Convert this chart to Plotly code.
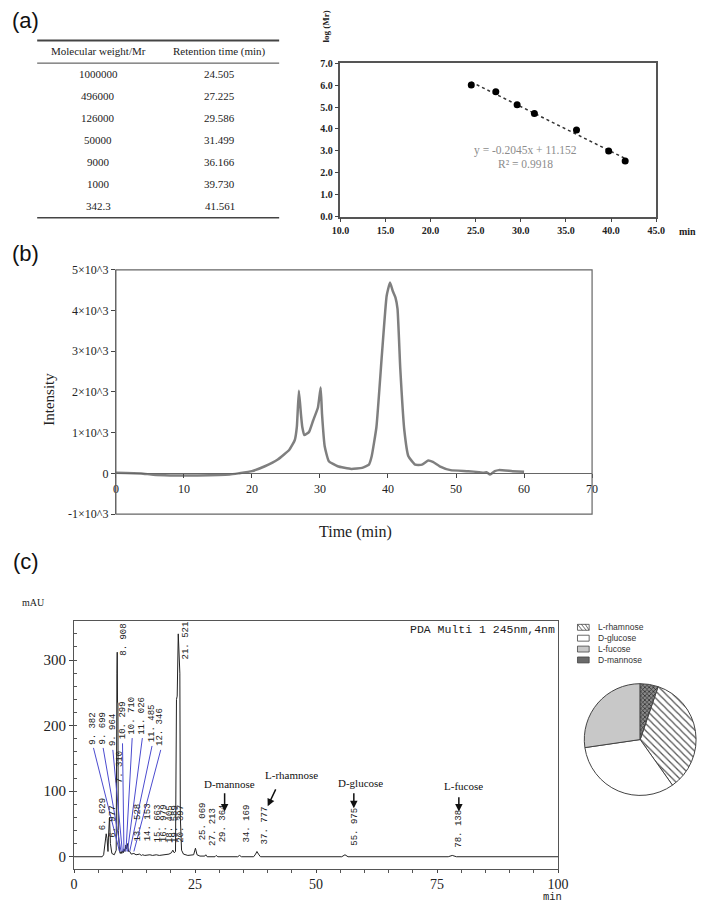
import math
import plotly.graph_objects as go

W, H = 709, 910
def X(px): return px / W
def Y(py): return 1 - py / H

SERIF = "Liberation Serif"
SANS = "Liberation Sans"
MONO = "Liberation Mono"

# ---------------- (a) data ----------------
mr_labels = ["1000000", "496000", "126000", "50000", "9000", "1000", "342.3"]
mr_values = [1000000, 496000, 126000, 50000, 9000, 1000, 342.3]
rt_labels = ["24.505", "27.225", "29.586", "31.499", "36.166", "39.730", "41.561"]
rt_values = [24.505, 27.225, 29.586, 31.499, 36.166, 39.730, 41.561]
table_headers = ["Molecular weight/Mr", "Retention time (min)"]
fit_slope = -0.2045
fit_intercept = 11.152
fit_r2 = 0.9918
a_xticks = [10, 15, 20, 25, 30, 35, 40, 45]
a_yticks = [0, 1, 2, 3, 4, 5, 6, 7]

# ---------------- (b) data ----------------
gpc_time = [0, 3.7, 5.5, 8, 12, 16.7, 18, 20, 21.9, 23.8,
            25.5, 26.3, 26.6, 26.9, 27.2, 27.4, 27.7, 28.4, 29.0, 29.7,
            30.1, 30.3, 30.7, 31.3, 32.6, 34.6, 36.2, 37.2, 37.6, 38.3,
            39.1, 39.8, 40.3, 40.7, 41.1, 41.4, 41.8, 42.4, 43.0, 44.0,
            45.0, 45.9, 46.6, 47.6, 49.2, 51.8, 53.4, 54.1, 54.5, 55.0,
            55.7, 56.3, 58.3, 60.0]
gpc_intensity = [16, 0, -35, -50, -50, -30, 0, 55, 175, 340,
                 580, 820, 1140, 2030, 1460, 1140, 940, 1020, 1300, 1620,
                 2110, 1460, 660, 300, 175, 110, 135, 215, 420, 1140,
                 2910, 4360, 4690, 4480, 4320, 4040, 2590, 1060, 420, 215,
                 215, 315, 280, 175, 80, 55, 30, 15, 30, -30,
                 55, 80, 55, 40]
b_xticks = [0, 10, 20, 30, 40, 50, 60, 70]
b_yticks = [-1000, 0, 1000, 2000, 3000, 4000, 5000]
b_yticktext = ["-1×10^3", "0", "1×10^3", "2×10^3", "3×10^3", "4×10^3", "5×10^3"]

# ---------------- (c) data ----------------
hplc_time = [0, 5.8, 6.1, 6.4, 6.63, 6.8, 7.0, 7.1, 7.31, 7.5, 7.8, 8.3, 8.7, 8.85, 8.91, 8.97, 9.05, 9.12, 9.25,
             9.38, 9.55, 9.7, 9.85, 9.96, 10.15, 10.3, 10.5, 10.71, 10.85, 11.03, 11.25, 11.49, 11.8, 12.35, 12.8,
             13.53, 13.9, 14.15, 14.6, 15.66, 16.2, 16.98, 17.6, 18.4, 19.0, 19.6, 20.1, 20.4, 20.7, 20.95,
             21.15, 21.3, 21.52, 21.7, 21.85, 21.95, 22.2, 22.6, 23.5, 24.7, 25.07, 25.4, 26.0, 27.0, 27.21, 27.5,
             29.1, 29.36, 29.7, 33.8, 34.17, 34.6, 37.1, 37.5, 37.78, 38.1, 38.5, 55.3, 55.97, 56.6, 77.3, 78.14, 79.0, 100]
hplc_mau = [0, 0, 3, 25, 35, 28, 8, 30, 60, 20, 5, 3, 10, 280, 312, 235, 235, 40, 8,
            8, 5, 8, 5, 9, 6, 12, 8, 18, 12, 20, 8, 8, 4, 5, 3,
            4, 2, 3, 2, 3, 2, 3, 2, 3, 3, 4, 6, 10, 6, 8,
            240, 245, 340, 290, 280, 60, 10, 4, 2, 3, 13, 3, 1, 1, 3, 0,
            0, 2, 0, 0, 2, 0, 0, 4, 8, 4, 0, 0, 3, 0, 0, 2, 0, 0]
peak_text = ["6. 629", "6. 977", "7. 310", "8. 908", "9. 382", "9. 699", "9. 964", "10. 299", "10. 710",
             "11. 026", "11. 485", "12. 346", "13. 528", "14. 153", "15. 663", "16. 979", "18. 405", "19. 589",
             "20. 397", "21. 521", "25. 069", "27. 213", "29. 364", "34. 169", "37. 777", "55. 975", "78. 138"]
peak_rt = [6.629, 6.977, 7.310, 8.908, 9.382, 9.699, 9.964, 10.299, 10.710, 11.026, 11.485, 12.346, 13.528,
           14.153, 15.663, 16.979, 18.405, 19.589, 20.397, 21.521, 25.069, 27.213, 29.364, 34.169, 37.777,
           55.975, 78.138]
c_xticks = [0, 25, 50, 75, 100]
c_yticks = [0, 100, 200, 300]
sugar_names = ["D-mannose", "L-rhamnose", "D-glucose", "L-fucose"]

pie_labels = ["L-rhamnose", "D-glucose", "L-fucose", "D-mannose"]
pie_values = [35.0, 32.5, 27.3, 5.2]

# ---------------- layout positions (not data) ----------------
lab_x = [6.0, 8.0, 9.4, 10.3, 4.0, 6.0, 8.0, 10.0, 12.0, 14.1, 16.1, 17.9, 13.25, 15.26, 17.3, 18.5, 19.7,
         20.7, 22.1, 23.2, 26.7, 28.7, 30.7, 35.7, 39.4, 58.0, 79.5]
lab_y = [39, 27, 110, 305, 170, 170, 167, 177, 185, 185, 173, 167, 22, 22, 20, 20, 20, 20, 20, 300, 24, 15,
         20, 20, 17, 15, 12]
leader_idx = [4, 5, 6, 7, 8, 9, 10, 11]
sugar_text_pos = [(32.1, 111), (45.0, 125), (59.2, 113), (80.5, 108)]
sugar_arrow = [((31.1, 99), (31.1, 69)), ((41.8, 105), (40.0, 77)),
               ((57.8, 99), (57.8, 74)), ((79.5, 93), (79.5, 69))]

fig = go.Figure()

# (a) scatter with fitted line
fig.add_trace(go.Scatter(x=[rt_values[0], rt_values[-1]],
                         y=[fit_slope * rt_values[0] + fit_intercept, fit_slope * rt_values[-1] + fit_intercept],
                         mode="lines", line=dict(color="#333", width=1.5, dash="dot"),
                         xaxis="x", yaxis="y", showlegend=False, hoverinfo="skip"))
fig.add_trace(go.Scatter(x=rt_values, y=[math.log10(v) for v in mr_values], mode="markers",
                         marker=dict(color="black", size=7), xaxis="x", yaxis="y", showlegend=False))

# (b) GPC curve
fig.add_trace(go.Scatter(x=gpc_time, y=gpc_intensity, mode="lines",
                         line=dict(color="#7f7f7f", width=2.5, shape="spline", smoothing=0.4),
                         xaxis="x2", yaxis="y2", showlegend=False))

# (c) HPLC
fig.add_trace(go.Scatter(x=hplc_time, y=hplc_mau, mode="lines", line=dict(color="#222", width=1),
                         xaxis="x3", yaxis="y3", showlegend=False))

# pie
fig.add_trace(go.Pie(labels=pie_labels, values=pie_values, sort=False, direction="clockwise", rotation=18.7,
                     textinfo="none", showlegend=False,
                     marker=dict(colors=["white", "white", "#c8c8c8", "#6e6e6e"],
                                 line=dict(color="#444", width=1),
                                 pattern=dict(shape=["\\", "", "", "x"],
                                              fgcolor=["#555", "#555", "#555", "#222"],
                                              bgcolor=["white", "white", "#c8c8c8", "#8a8a8a"],
                                              fillmode="replace",
                                              size=[5, 8, 8, 3], solidity=[0.25, 0.2, 0.2, 0.4])),
                     domain=dict(x=[X(592), X(707)], y=[Y(802), Y(686)])))

axcommon = dict(showgrid=False, zeroline=False, showline=True)
b_domain_y = [Y(515), Y(267)]
b_zero_pos = b_domain_y[0] + (0 - b_yticks[0]) / (b_yticks[-1] - b_yticks[0]) * (b_domain_y[1] - b_domain_y[0])

fig.update_layout(
    width=W, height=H, margin=dict(l=0, r=0, t=0, b=0),
    paper_bgcolor="white", plot_bgcolor="white",
    xaxis=dict(domain=[X(341), X(666)], range=[10, 45], tickvals=a_xticks, tickformat=".1f",
               ticks="outside", ticklen=4, linecolor="#555", linewidth=1.5, mirror=True, anchor="y",
               tickfont=dict(family=SERIF, size=10, color="#222", weight="bold"), **axcommon),
    yaxis=dict(domain=[Y(213), Y(57)], range=[0, 7], tickvals=a_yticks, tickformat=".1f",
               ticks="outside", ticklen=4, linecolor="#555", linewidth=1.5, mirror=True, anchor="x",
               tickfont=dict(family=SERIF, size=10, color="#222", weight="bold"), **axcommon),
    xaxis2=dict(domain=[X(110), X(600)], range=[0, 70], tickvals=b_xticks, anchor="free", position=b_zero_pos,
                ticks="outside", ticklen=4, linecolor="#666", linewidth=1.2,
                tickfont=dict(family=SERIF, size=12, color="#222"), **axcommon),
    yaxis2=dict(domain=b_domain_y, range=[-1000, 5000], tickvals=b_yticks, ticktext=b_yticktext, anchor="x2",
                ticks="outside", ticklen=4, linecolor="#666", linewidth=1.2,
                tickfont=dict(family=SERIF, size=12, color="#222"), **axcommon),
    xaxis3=dict(domain=[X(67), X(565)], range=[0, 100], tickvals=c_xticks, anchor="y3",
                ticks="outside", ticklen=3, linecolor="#555", linewidth=1, mirror=True,
                minor=dict(dtick=5, ticks="outside", ticklen=3, tickcolor="#555"),
                tickfont=dict(family=SERIF, size=14, color="#222"), **axcommon),
    yaxis3=dict(domain=[Y(875), Y(624)], range=[-18, 359], tickvals=c_yticks, anchor="x3",
                ticks="outside", ticklen=4, linecolor="#555", linewidth=1, mirror=True,
                minor=dict(dtick=20, ticks="inside", ticklen=3, tickcolor="#555"),
                tickfont=dict(family=SERIF, size=15, color="#222"), **axcommon),
)

shapes = []
ann = []

def ptext(px, py, text, font, xanchor="center", yanchor="middle", **kw):
    ann.append(dict(x=X(px), y=Y(py), xref="paper", yref="paper", text=text, showarrow=False,
                    xanchor=xanchor, yanchor=yanchor, font=font, **kw))

# panel letters
for t, py in [("(a)", 14), ("(b)", 250), ("(c)", 563)]:
    ptext(17, py, t, dict(family=SANS, size=22, color="#111"))

# table
for py, w in [(34, 2), (57, 1), (214, 1.5)]:
    shapes.append(dict(type="line", xref="paper", yref="paper", x0=X(29), x1=X(278), y0=Y(py), y1=Y(py),
                       line=dict(color="#444", width=w)))
tfont = dict(family=SERIF, size=11, color="#222")
ptext(92, 45, table_headers[0], tfont)
ptext(217, 45, table_headers[1], tfont)
for i, (m, r) in enumerate(zip(mr_labels, rt_labels)):
    py = 68 + i * 22.4
    ptext(92, py, m, tfont)
    ptext(217, py, r, tfont)

# scatter texts
ptext(326, 20, "log (Mr)", dict(family=SERIF, size=9, color="#222", weight="bold"), textangle=-90)
ptext(698, 228, "min", dict(family=SERIF, size=10, color="#222", weight="bold"))
efont = dict(family=SERIF, size=11.5, color="#8c8c8c")
ptext(532, 146, f"y = {fit_slope}x + {fit_intercept}", efont)
ptext(532, 159, f"R² = {fit_r2}", efont)

# (b) box & titles
shapes.append(dict(type="rect", xref="x2 domain", yref="y2 domain", x0=0, x1=1, y0=0, y1=1,
                   line=dict(color="#666", width=1.2)))
ptext(41, 398, "Intensity", dict(family=SERIF, size=15, color="#222"), textangle=-90)
ptext(357, 533, "Time (min)", dict(family=SERIF, size=16, color="#222"))

# (c) texts
ptext(25, 605, "mAU", dict(family=SERIF, size=10, color="#222"))
ptext(564, 632, "PDA Multi 1 245nm,4nm", dict(family=MONO, size=11.5, color="#222"), xanchor="right")
ptext(559, 904, "min", dict(family=MONO, size=10.5, color="#222"), borderpad=0)
for i, t in enumerate(peak_text):
    ann.append(dict(x=lab_x[i], y=lab_y[i], xref="x3", yref="y3", text=t, textangle=-90, xanchor="center",
                    yanchor="bottom", showarrow=False, borderpad=0,
                    font=dict(family=MONO, size=9, color="#222")))
for i in leader_idx:
    shapes.append(dict(type="line", xref="x3", yref="y3", x0=lab_x[i], y0=lab_y[i] - 4, x1=peak_rt[i], y1=8,
                       line=dict(color="#4b4bcf", width=1)))
for name, (tx, ty), ((ax0, ay0), (hx, hy)) in zip(sugar_names, sugar_text_pos, sugar_arrow):
    ann.append(dict(x=tx, y=ty, xref="x3", yref="y3", text=name, showarrow=False,
                    xanchor="center", yanchor="middle",
                    font=dict(family=SERIF, size=11, color="#111")))
    ann.append(dict(x=hx, y=hy, ax=ax0, ay=ay0, xref="x3", yref="y3", axref="x3", ayref="y3", text="",
                    showarrow=True, arrowhead=2, arrowsize=1, arrowwidth=1.5, arrowcolor="#111"))

# pie legend (one text block, swatches drawn beside each line)
leg_top = 630
leg_step = 11.05
leg_fill = ["white", "white", "#c8c8c8", "#6a6a6a"]
for i, fc in enumerate(leg_fill):
    py = leg_top + i * leg_step
    shapes.append(dict(type="rect", xref="paper", yref="paper", x0=X(585), x1=X(597), y0=Y(py + 3), y1=Y(py - 3),
                       fillcolor=fc, line=dict(color="#444", width=0.8)))
ptext(604, leg_top + 1.5 * leg_step, "<br>".join(pie_labels), dict(family=SANS, size=8.5, color="#333"),
      xanchor="left", align="left")
for x0 in [585, 589, 593]:
    shapes.append(dict(type="line", xref="paper", yref="paper", x0=X(x0), y0=Y(627), x1=X(min(x0 + 5, 597)),
                       y1=Y(633), line=dict(color="#444", width=0.8)))

fig.update_layout(shapes=shapes, annotations=ann)
fig.write_html("out.html")
